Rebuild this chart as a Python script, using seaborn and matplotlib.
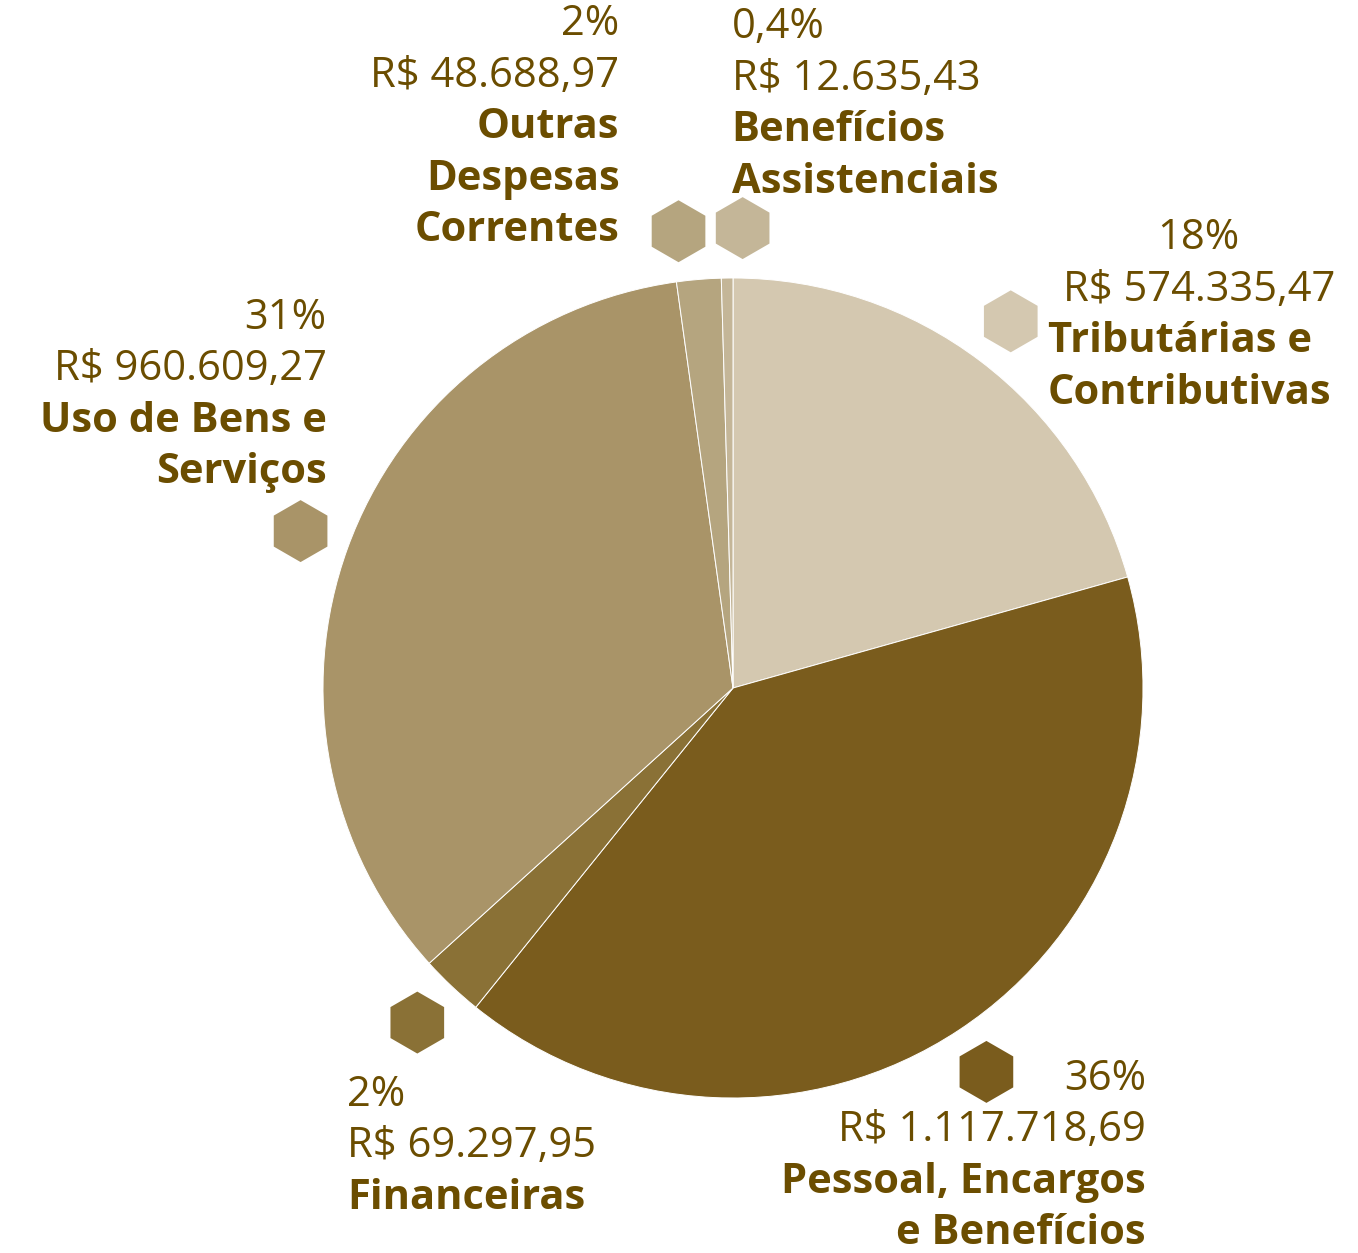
import numpy as np
import pandas as pd
import matplotlib
matplotlib.use("Agg")
import matplotlib.pyplot as plt
import seaborn as sns

# Despesas por grupo (R$), percentual informado e cor de cada fatia
categories = [
    "Tributárias e\nContributivas",
    "Pessoal, Encargos\ne Benefícios",
    "Financeiras",
    "Uso de Bens e\nServiços",
    "Outras\nDespesas\nCorrentes",
    "Benefícios\nAssistenciais",
]
amounts = [574335.47, 1117718.69, 69297.95, 960609.27, 48688.97, 12635.43]
percent_labels = [18, 36, 2, 31, 2, 0.4]
colors = ["#D4C8B0", "#7A5C1D", "#8A7136", "#A99468", "#B5A57F", "#C4B698"]

# Layout of each label block relative to its hexagon marker (pixels, y down)
label_layout = [
    dict(num_dx=188, num_ha="center", name_dx=37, name_ha="left", dy0=-72),
    dict(num_dx=159.5, num_ha="right", name_dx=159.5, name_ha="right", dy0=18),
    dict(num_dx=-70, num_ha="left", name_dx=-70, name_ha="left", dy0=83),
    dict(num_dx=26, num_ha="right", name_dx=26, name_ha="right", dy0=-202.5),
    dict(num_dx=-59, num_ha="right", name_dx=-59, name_ha="right", dy0=-196),
    dict(num_dx=-11, num_ha="left", name_dx=-11, name_ha="left", dy0=-190),
]

W, H = 1358, 1253
CX, CY = 733, 688          # pie centre, pixel coordinates (y down)
R = 410                    # pie radius
R_MARK = 460               # radius of the hexagon markers
TEXT = "#6B4D00"
FS = 30
LINE = 51.5


def fy(y):
    return H - y


def brl(v):
    s = f"{v:,.2f}"
    return "R$ " + s.replace(",", "#").replace(".", ",").replace("#", ".")


def pct(p):
    return f"{p:g}".replace(".", ",") + "%"


def spread(angles, min_gap):
    a = list(angles)
    n = len(a)
    for i in range(n):
        j = (i + 1) % n
        gap = (a[j] - a[i]) % 360
        if gap < min_gap:
            shift = (min_gap - gap) / 2
            a[i] -= shift
            a[j] += shift
    return a


sns.set_theme(style="white")
plt.rcParams["font.family"] = ["Open Sans", "DejaVu Sans"]

fig = plt.figure(figsize=(W / 100, H / 100), dpi=100)
ax = fig.add_axes([0, 0, 1, 1])

ax.pie(
    amounts,
    colors=colors,
    startangle=90,
    counterclock=False,
    center=(CX, fy(CY)),
    radius=R,
    frame=True,
    wedgeprops=dict(edgecolor="white", linewidth=0.7),
)

# Hexagon markers at the middle angle of each slice (clockwise from the top)
frac = np.array(amounts) / np.sum(amounts)
mids = np.cumsum(frac) * 360 - frac * 180
mark_angles = np.radians(spread(mids, 8.0))
mx = CX + R_MARK * np.sin(mark_angles)
my = CY - R_MARK * np.cos(mark_angles)

df = pd.DataFrame({"categoria": categories, "x": mx, "y": fy(my)})
sns.scatterplot(
    data=df, x="x", y="y", hue="categoria",
    palette=dict(zip(categories, colors)),
    marker="h", s=1990, linewidth=0, legend=False, ax=ax,
)

for i, name in enumerate(categories):
    lay = label_layout[i]
    base = my[i] + lay["dy0"]
    nums = [pct(percent_labels[i]), brl(amounts[i])]
    for k, t in enumerate(nums):
        ax.text(mx[i] + lay["num_dx"], fy(base + k * LINE), t,
                ha=lay["num_ha"], va="baseline", fontsize=FS, color=TEXT)
    for k, t in enumerate(name.split("\n")):
        ax.text(mx[i] + lay["name_dx"], fy(base + (k + 2) * LINE), t,
                ha=lay["name_ha"], va="baseline", fontsize=FS,
                fontweight="bold", color=TEXT)

ax.set_xlim(0, W)
ax.set_ylim(0, H)
ax.set_aspect("equal")
ax.axis("off")

fig.savefig("out.png", dpi=100)
